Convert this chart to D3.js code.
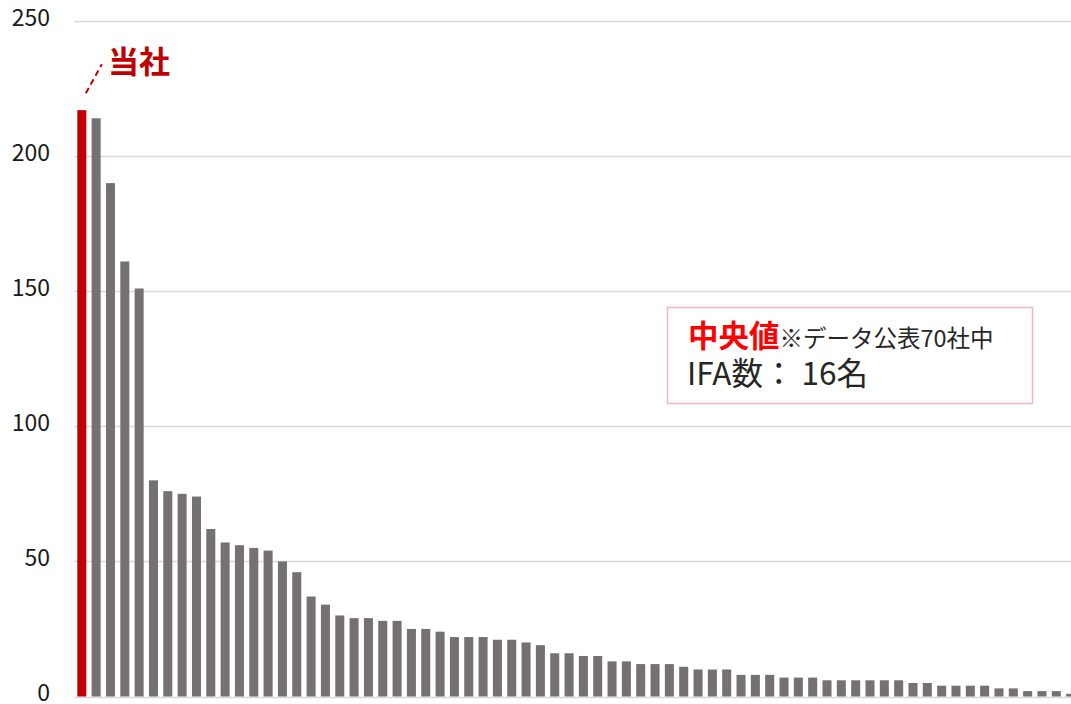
<!DOCTYPE html>
<html>
<head>
<meta charset="utf-8">
<script src="https://cdn.jsdelivr.net/npm/d3@7"></script>
<style>
  html, body { margin: 0; padding: 0; background: #fff; }
  svg { display: block; }
</style>
</head>
<body>
<svg id="chart" width="1071" height="704"></svg>
<script>
// IFA headcount per company, sorted descending; first entry is our company
const companies = d3.range(70).map(i => i === 0 ? "当社" : "社" + i);
const ifaCounts = [
  217, 214, 190, 161, 151, 80, 76, 75, 74, 62,
  57, 56, 55, 54, 50, 46, 37, 34, 30, 29,
  29, 28, 28, 25, 25, 24, 22, 22, 22, 21,
  21, 20, 19, 16, 16, 15, 15, 13, 13, 12,
  12, 12, 11, 10, 10, 10, 8, 8, 8, 7,
  7, 7, 6, 6, 6, 6, 6, 6, 5, 5,
  4, 4, 4, 4, 3, 3, 2, 2, 2, 1
];
const yTicks = [0, 50, 100, 150, 200, 250];
const highlightLabel = "当社";
const medianTitle = "中央値";
const medianNote = "※データ公表70社中";
const medianText = "IFA数： 16名";

const FONT = "'Noto Sans CJK JP', 'Noto Sans', sans-serif";
const svg = d3.select("#chart");

const x = d3.scaleBand()
  .domain(companies)
  .range([74.65, 1077.8])
  .paddingInner(0.37)
  .paddingOuter(0.185);

const y = d3.scaleLinear()
  .domain([0, 250])
  .range([696.5, 21]);

// horizontal gridlines
svg.append("g")
  .selectAll("line")
  .data(yTicks)
  .join("line")
  .attr("x1", 74)
  .attr("x2", 1071)
  .attr("y1", d => Math.round(y(d)) + 0.5)
  .attr("y2", d => Math.round(y(d)) + 0.5)
  .attr("stroke", "#d9d9d9")
  .attr("stroke-width", 1.3);

// y-axis labels
const yAxis = d3.axisLeft(y).tickValues(yTicks).tickSize(0).tickPadding(0);
const yg = svg.append("g")
  .attr("transform", "translate(50,-3)")
  .call(yAxis);
yg.select(".domain").remove();
yg.selectAll("text")
  .attr("font-family", FONT)
  .attr("font-size", 23)
  .attr("fill", "#1a1a1a");

// bars
svg.append("g")
  .selectAll("rect")
  .data(ifaCounts)
  .join("rect")
  .attr("x", (d, i) => x(companies[i]))
  .attr("width", x.bandwidth())
  .attr("y", d => y(d))
  .attr("height", d => y(0) - y(d))
  .attr("fill", (d, i) => i === 0 ? "#c00000" : "#767171");

// callout for our company
const hx = x(companies[0]) + x.bandwidth() / 2;
svg.append("line")
  .attr("x1", hx + 4)
  .attr("y1", y(ifaCounts[0]) - 17)
  .attr("x2", hx + 20)
  .attr("y2", y(ifaCounts[0]) - 46)
  .attr("stroke", "#c00000")
  .attr("stroke-width", 2)
  .attr("stroke-dasharray", "6,4");

svg.append("text")
  .attr("x", 108)
  .attr("y", 73)
  .attr("font-family", FONT)
  .attr("font-size", 31)
  .attr("font-weight", "bold")
  .attr("fill", "#c00000")
  .text(highlightLabel);

// median annotation box
svg.append("rect")
  .attr("x", 667.5)
  .attr("y", 307.5)
  .attr("width", 365)
  .attr("height", 96)
  .attr("fill", "#fff")
  .attr("stroke", "#f4b8b8")
  .attr("stroke-width", 1.5);

const t1 = svg.append("text")
  .attr("x", 688)
  .attr("y", 347)
  .attr("font-family", FONT);
t1.append("tspan")
  .attr("font-size", 30.5)
  .attr("font-weight", "bold")
  .attr("fill", "#ff0000")
  .text(medianTitle);
t1.append("tspan")
  .attr("font-size", 23.5)
  .attr("fill", "#262626")
  .text(medianNote);

svg.append("text")
  .attr("x", 687)
  .attr("y", 385)
  .attr("font-family", FONT)
  .attr("font-size", 31.5)
  .attr("fill", "#262626")
  .text(medianText);
</script>
</body>
</html>
